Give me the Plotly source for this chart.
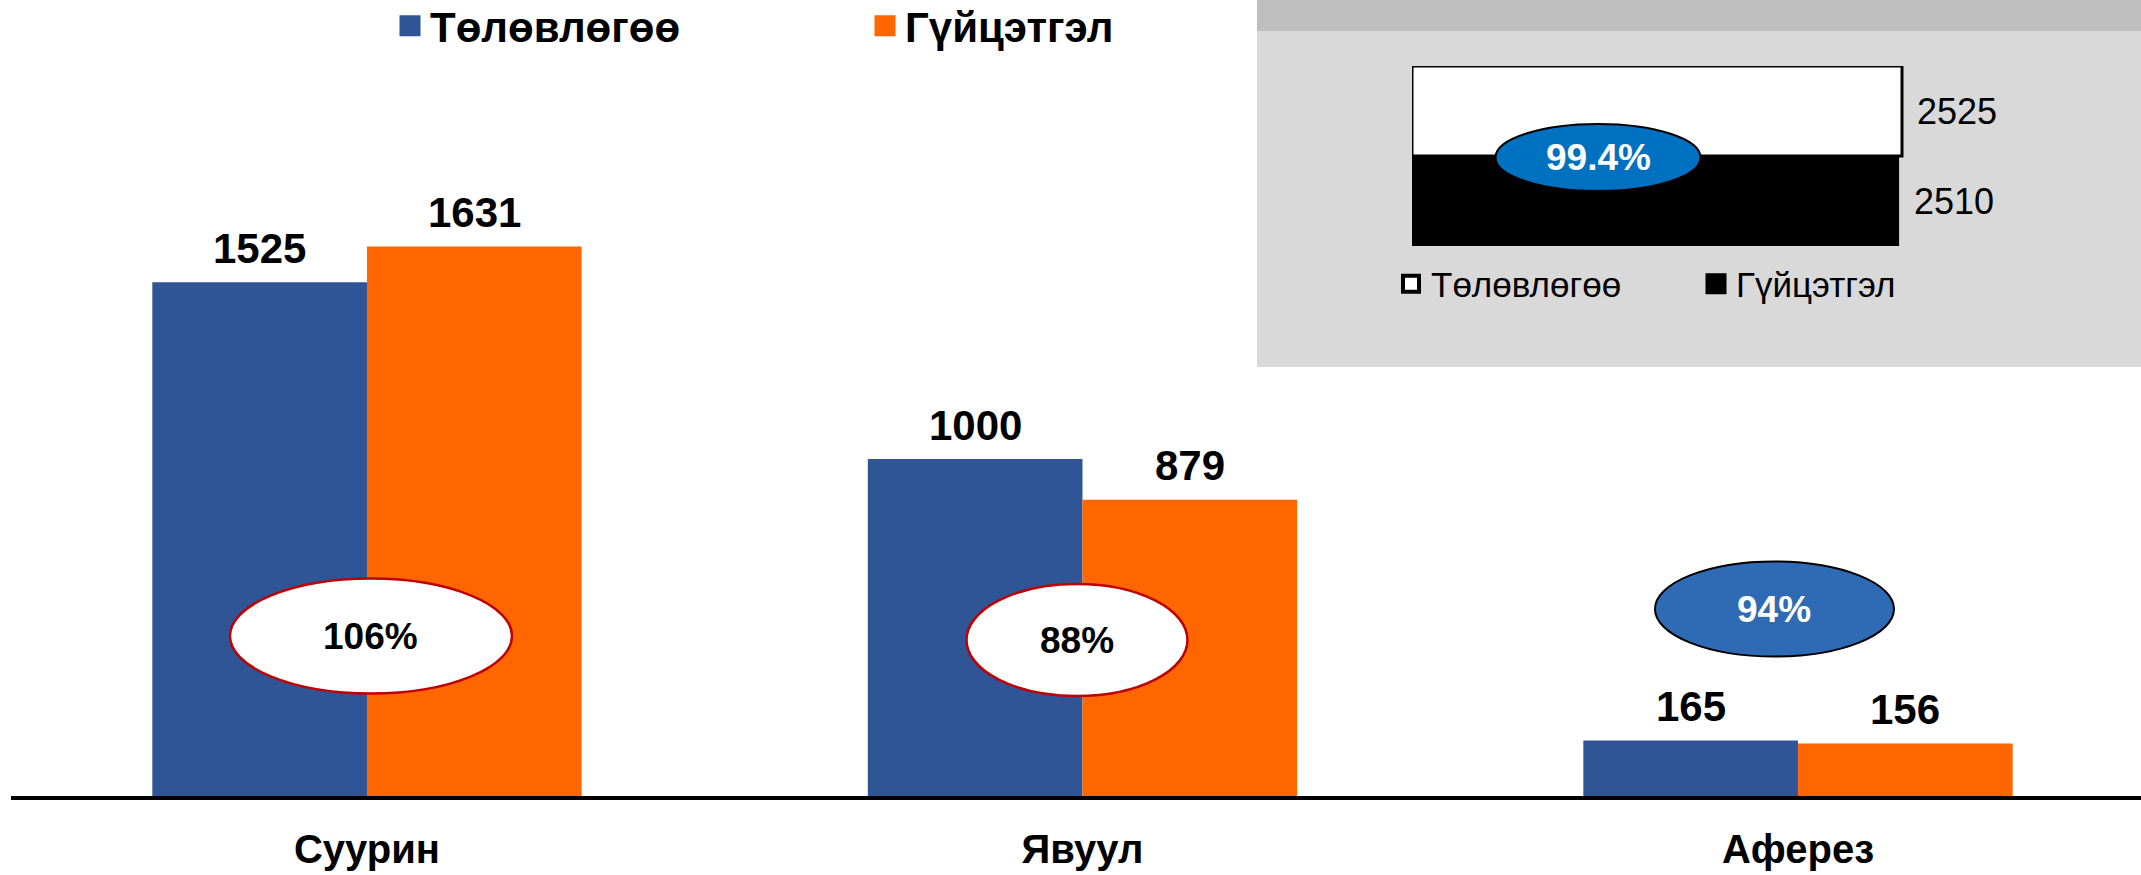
import plotly.graph_objects as go

# ---------------- data ----------------
categories = ["Суурин", "Явуул", "Аферез"]
plan = [1525, 1000, 165]
actual = [1631, 879, 156]
pct_labels = ["106%", "88%", "94%"]
series_names = ["Төлөвлөгөө", "Гүйцэтгэл"]

inset_cats = ["Төлөвлөгөө", "Гүйцэтгэл"]
inset_vals = [2525, 2510]
inset_pct = "99.4%"

# ---------------- styling ----------------
BLUE = "#2F5597"
ORANGE = "#FF6600"
FONT = "Liberation Sans, Arial, Helvetica, sans-serif"

W, H = 2141, 875
ML, MR, MT, MB = 11, 0, 20, 79
PW, PH = W - ML - MR, H - MT - MB
Y_PX_PER_UNIT = 0.3369
X2_PX_PER_UNIT = 490 / 2525


def px_x(X):
    return (X - ML) / PW


def px_y(Y):
    return (H - MB - Y) / PH


fig = go.Figure()

# main bars
fig.add_trace(go.Bar(x=categories, y=plan, name=series_names[0], marker=dict(color=BLUE, line=dict(width=0)),
                     showlegend=False, xaxis="x", yaxis="y", hoverinfo="skip"))
fig.add_trace(go.Bar(x=categories, y=actual, name=series_names[1], marker=dict(color=ORANGE, line=dict(width=0)),
                     showlegend=False, xaxis="x", yaxis="y", hoverinfo="skip"))

# main legend entries
for nm, col in zip(series_names, [BLUE, ORANGE]):
    fig.add_trace(go.Scatter(x=[None], y=[None], mode="markers", name=nm, legend="legend",
                             marker=dict(symbol="square", size=16, color=col, line=dict(color=col, width=5)),
                             xaxis="x", yaxis="y"))

# inset bars
inset_styles = [dict(color="white", line=dict(color="black", width=3)),
                dict(color="black", line=dict(color="black", width=0))]
for cat, val, st in zip(inset_cats, inset_vals, inset_styles):
    fig.add_trace(go.Bar(y=[cat], x=[val], orientation="h", width=1, offsetgroup="inset",
                         marker=st, showlegend=False, xaxis="x2", yaxis="y2", hoverinfo="skip"))

# inset legend entries
leg2_markers = [dict(symbol="square", size=16, color="white", line=dict(color="black", width=4)),
                dict(symbol="square", size=16, color="black", line=dict(color="black", width=5))]
for nm, mk in zip(inset_cats, leg2_markers):
    fig.add_trace(go.Scatter(x=[None], y=[None], mode="markers", name=nm, legend="legend2",
                             marker=mk, xaxis="x2", yaxis="y2"))

shapes = []
# inset background
shapes.append(dict(type="rect", xref="paper", yref="paper", x0=px_x(1257), x1=1.0,
                   y0=px_y(367), y1=px_y(0), fillcolor="#D9D9D9", line=dict(width=0), layer="below"))
shapes.append(dict(type="rect", xref="paper", yref="paper", x0=px_x(1257), x1=1.0,
                   y0=px_y(31), y1=px_y(0), fillcolor="#BFBFBF", line=dict(width=0), layer="below"))

# ellipses on main chart (pixel-sized, anchored to category / baseline)
ell = [
    dict(dx=4, dy=160, w=282, h=115, fill="white", line="#C00000", lw=2.5, tc="black"),
    dict(dx=-5.5, dy=156, w=221, h=112, fill="white", line="#C00000", lw=2.5, tc="black"),
    dict(dx=-23.5, dy=187, w=239, h=95, fill="#2E6BB4", line="black", lw=2, tc="white"),
]
annotations = []
for i, e in enumerate(ell):
    shapes.append(dict(type="circle", xref="x", yref="y", xsizemode="pixel", ysizemode="pixel",
                       xanchor=i, yanchor=0,
                       x0=e["dx"] - e["w"] / 2, x1=e["dx"] + e["w"] / 2,
                       y0=e["dy"] - e["h"] / 2, y1=e["dy"] + e["h"] / 2,
                       fillcolor=e["fill"], line=dict(color=e["line"], width=e["lw"]), layer="above"))
    annotations.append(dict(x=i, y=0, xref="x", yref="y", xshift=e["dx"], yshift=e["dy"],
                            text=pct_labels[i], showarrow=False, xanchor="center", yanchor="middle",
                            font=dict(family=FONT, size=37, color=e["tc"], weight="bold")))

# inset ellipse
shapes.append(dict(type="circle", xref="x2", yref="y2", xsizemode="pixel", ysizemode="pixel",
                   xanchor=0, yanchor=0.5, x0=186 - 102.5, x1=186 + 102.5, y0=-1.5 - 33.5, y1=-1.5 + 33.5,
                   fillcolor="#0070C0", line=dict(color="black", width=2), layer="above"))
annotations.append(dict(x=0, y=0.5, xref="x2", yref="y2", xshift=186, yshift=-1.5, text=inset_pct,
                        showarrow=False, xanchor="center", yanchor="middle",
                        font=dict(family=FONT, size=37, color="white", weight="bold")))

# value labels main chart
for i, (p, a) in enumerate(zip(plan, actual)):
    annotations.append(dict(x=i - 0.15, y=p, xref="x", yref="y", yshift=34, text=str(p), showarrow=False,
                            xanchor="center", yanchor="middle",
                            font=dict(family=FONT, size=42, color="black", weight="bold")))
    annotations.append(dict(x=i + 0.15, y=a, xref="x", yref="y", yshift=34, text=str(a), showarrow=False,
                            xanchor="center", yanchor="middle",
                            font=dict(family=FONT, size=42, color="black", weight="bold")))

# inset value labels
for cat, val in zip(inset_cats, inset_vals):
    annotations.append(dict(x=val, y=cat, xref="x2", yref="y2", xshift=13, text=str(val), showarrow=False,
                            xanchor="left", yanchor="middle",
                            font=dict(family=FONT, size=36, color="black")))

fig.update_layout(
    width=W, height=H,
    margin=dict(l=ML, r=MR, t=MT, b=MB, pad=0, autoexpand=False),
    paper_bgcolor="white", plot_bgcolor="rgba(0,0,0,0)",
    barmode="group", bargap=0.4, bargroupgap=0,
    font=dict(family=FONT, color="black"),
    xaxis=dict(type="category", domain=[0, 1], range=[-0.4975, 2.4794], showline=True, linewidth=4,
               linecolor="black", showgrid=False, zeroline=False, ticks="",
               tickfont=dict(family=FONT, size=40, color="black", weight="bold"),
               ticklabelstandoff=15, fixedrange=True, anchor="y", automargin=False),
    yaxis=dict(domain=[0, 1], range=[0, PH / Y_PX_PER_UNIT], visible=False, showgrid=False,
               zeroline=False, fixedrange=True, anchor="x", automargin=False),
    xaxis2=dict(domain=[px_x(1412), 1.0], range=[0, (W - 1412) / X2_PX_PER_UNIT], visible=False,
                showgrid=False, zeroline=False, anchor="y2", fixedrange=True, automargin=False),
    yaxis2=dict(domain=[px_y(246), px_y(66)], type="category", categoryorder="array",
                categoryarray=[inset_cats[1], inset_cats[0]], range=[-0.5, 1.5], visible=False,
                showgrid=False, zeroline=False, anchor="x2", fixedrange=True, automargin=False),
    legend=dict(orientation="h", x=px_x(390), xanchor="left", y=px_y(26), yanchor="middle",
                bgcolor="rgba(0,0,0,0)", borderwidth=0, entrywidth=430, entrywidthmode="pixels",
                font=dict(family=FONT, size=42, color="black", weight="bold"), itemclick=False),
    legend2=dict(orientation="h", x=px_x(1391), xanchor="left", y=px_y(284), yanchor="middle",
                 bgcolor="rgba(0,0,0,0)", borderwidth=0, entrywidth=260, entrywidthmode="pixels",
                 font=dict(family=FONT, size=35, color="black"), itemclick=False),
    shapes=shapes,
    annotations=annotations,
    hovermode=False,
)

fig.write_html("out.html", config={"displayModeBar": False, "staticPlot": True},
               post_script="document.body.style.margin='0';document.body.style.overflow='hidden';")
